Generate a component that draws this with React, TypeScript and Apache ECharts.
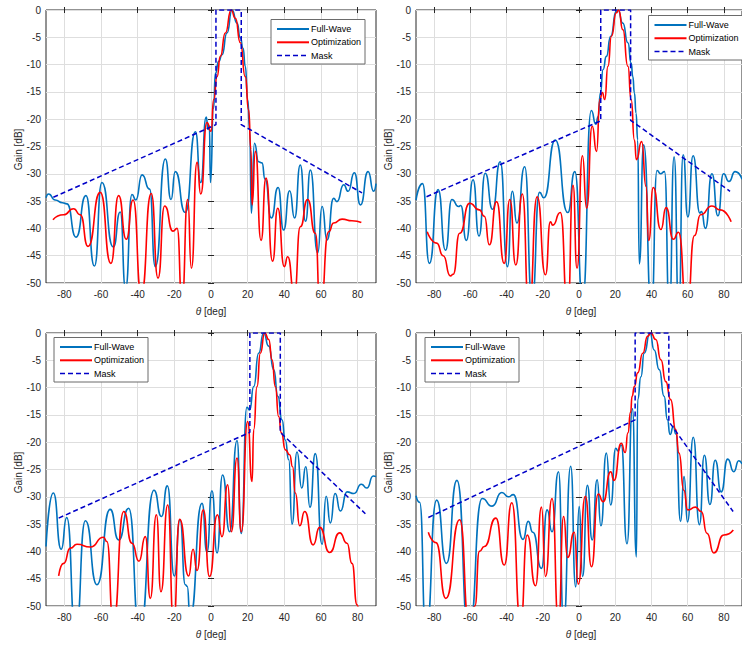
import React, { useEffect, useRef } from "react";
import * as echarts from "echarts";

type Pt = [number, number];

// Angle tick positions (deg); gain ticks use a 5 dB interval
const thetaTicks = [-80, -60, -40, -20, 0, 20, 40, 60, 80];
const legendNames = ["Full-Wave", "Optimization", "Mask"];

// ---- Beam steered to ~10 deg ----
const fullWave1: Pt[] = [[-90,-34.4],[-88.6,-33.7],[-85,-34.8],[-81,-35.3],[-78.6,-35.5],[-73.6,-41.6],[-68.2,-34],[-63.6,-46.9],[-59.5,-31.6],[-53.3,-43.4],[-49.5,-37],[-46.6,-51],[-43.1,-33.8],[-41,-34.8],[-37.6,-30.2],[-33.5,-32.8],[-30.4,-47],[-24.9,-27.3],[-21.8,-34.7],[-19.5,-29.6],[-14,-37.1],[-8.5,-22.3],[-5.6,-31.6],[-2.6,-19.6],[-1.6,-21.9],[-0.9,-21.2],[-0.3,-31.6],[1.4,-18],[2.4,-11.6],[4.2,-9.4],[6,-8.2],[8.7,-4.2],[11.5,0],[14.2,-2.4],[16,-5.1],[17.5,-7],[18.7,-10.3],[20,-16.4],[21.1,-22],[22,-37.2],[23.7,-24.4],[26,-27.8],[27.8,-28],[29.5,-31],[32.9,-38.1],[36.6,-32.5],[39.6,-40.3],[42.9,-33.1],[45.6,-38.1],[48.7,-28.4],[51.6,-38.7],[54.2,-29.3],[58.2,-44.5],[60.6,-36],[63.3,-42.1],[66.9,-34.5],[68.7,-35.1],[72.4,-32],[74.8,-33.2],[78.2,-29.8],[81.5,-35.7],[85.7,-29.6],[88.7,-33.2],[90,-31.8]];
const optimization1: Pt[] = [[-86.2,-38.4],[-80.4,-37.5],[-75,-36.4],[-71.3,-37.5],[-67.1,-43.3],[-60.4,-33.4],[-54.6,-46.4],[-50.4,-34],[-46.2,-42],[-42.5,-34.8],[-38,-52],[-32.6,-33.6],[-28.9,-49.1],[-25.3,-35.9],[-20.7,-40.5],[-18.5,-40],[-15.8,-53],[-12.7,-34.7],[-10.7,-47.3],[-7.6,-27.9],[-5.6,-33.7],[-2.2,-20.6],[0,-22.2],[1.5,-16.4],[3.3,-12.2],[5.1,-8.5],[7.8,-4.2],[11,0],[13.3,-1.5],[16,-6],[18.7,-12.2],[20.5,-18.3],[21.8,-25.6],[22.4,-35.7],[24.2,-25.9],[27.3,-42.2],[30,-30.8],[33.6,-46],[36.4,-36.3],[40,-47],[41.8,-45.2],[45.5,-52],[48.7,-39.7],[52.7,-34.7],[56.9,-40.9],[59.6,-55],[64.2,-40.6],[66.9,-39],[71.5,-38.3],[76.9,-38.6],[82,-38.9]];
const mask1: Pt[] = [[-86,-34.3],[2.7,-21],[2.7,0],[16.5,0],[16.5,-21],[82.4,-33.5]];

// ---- Beam steered to ~20 deg ----
const fullWave2: Pt[] = [[-90,-34.8],[-86.4,-31.8],[-82.6,-46.4],[-77.8,-32.9],[-73.7,-44],[-70.2,-34.7],[-66.5,-36],[-65.3,-35.8],[-62.2,-42.2],[-58.5,-31.1],[-55.2,-41.4],[-51.8,-29.9],[-47.7,-36.5],[-43.5,-27.8],[-39.5,-47],[-36.8,-33.2],[-34.3,-39],[-30,-28.7],[-25.9,-53],[-21.8,-33.4],[-19.4,-34.4],[-13.1,-23.8],[-6.2,-37.1],[-2.3,-29.6],[2,-53],[6.8,-18.4],[9.3,-20.9],[10.6,-19.5],[11.8,-15.2],[13.3,-10.9],[15.1,-8.5],[17.5,-4.8],[20.6,-0.2],[21.5,0],[24.2,-2.4],[27,-6],[28.8,-9.7],[29.7,-12.2],[30.6,-15.2],[31.5,-18.9],[32.4,-23.8],[33.3,-46.5],[35.7,-24.7],[40,-55],[43.1,-29.4],[45,-30],[47.2,-29.6],[49.9,-55],[52.5,-26.9],[55.1,-55],[57.5,-26.5],[60.1,-37.9],[63,-26.7],[66.8,-37.2],[67.6,-36.9],[69.8,-40],[73.4,-30],[76.7,-37.7],[79.8,-30],[82.8,-31.4],[86.2,-29.6],[90,-31]];
const optimization2: Pt[] = [[-83.8,-40.6],[-78.6,-42.7],[-75,-45],[-71,-48.7],[-69.5,-48.4],[-65.9,-40.9],[-60.4,-35.4],[-55,-36.6],[-52.2,-37.8],[-49.5,-43],[-45.5,-35.1],[-41.3,-46.4],[-38.2,-34.7],[-34.9,-46.7],[-31.3,-33.7],[-27.6,-55],[-23.1,-34.2],[-18.5,-48.5],[-15.8,-38.8],[-14.5,-39.4],[-10.3,-37.1],[-6.2,-55],[-3.3,-32.1],[-1.1,-47.3],[1.9,-26.7],[4.2,-36.3],[7.3,-21.3],[9.7,-25.9],[11.5,-16.4],[12.9,-15.1],[14.2,-16.4],[16,-10.3],[17.9,-4.8],[20.6,-0.5],[21.9,0],[24.2,-3.6],[27,-10.3],[28.8,-16.4],[30.6,-23.8],[31.7,-27.4],[34.6,-24.1],[37,-32.3],[38.5,-42.2],[41,-32.5],[45.2,-40.2],[48.1,-36.2],[52.1,-42],[54.9,-40.7],[59.6,-55],[63.8,-41.3],[67.1,-37.5],[73.4,-35.9],[78,-36.6],[84,-38.8]];
const mask2: Pt[] = [[-84.2,-34.2],[12,-20.3],[12,0],[28.5,0],[28.5,-20.2],[83.4,-33.2]];

// ---- Beam steered to ~30 deg ----
const fullWave3: Pt[] = [[-90,-39.1],[-86,-29.3],[-81.7,-39.6],[-78.7,-33.8],[-73.8,-55],[-68.5,-34.4],[-62.2,-46.1],[-55,-32.3],[-50.4,-37.9],[-44.9,-32.1],[-38.9,-55],[-31.1,-28.8],[-27,-33.6],[-23.8,-28],[-20,-44.5],[-16.9,-34.2],[-14,-46.1],[-13,-46.4],[-11.4,-52],[-4.9,-31.2],[-2.2,-40.1],[0.5,-28.9],[3.3,-40.3],[6.3,-26],[10.2,-36.4],[14.2,-19.7],[16.5,-36.7],[19.6,-13.6],[21.1,-14.1],[23.3,-9.8],[26,-3.7],[28.7,0],[31.5,-2.4],[34.2,-6.7],[36.5,-11.6],[38.7,-15.9],[40.5,-19.6],[42.4,-23.2],[44.2,-35],[46.9,-21.8],[49.5,-28.4],[51.7,-24.5],[54,-31.9],[56.9,-22.1],[60.6,-38.7],[62.8,-29.9],[65.1,-34.8],[67.7,-29.4],[70.6,-32.6],[74.2,-29.1],[78,-29.4],[82,-27.7],[85,-28.4],[88.5,-26.2],[90,-26.3]];
const optimization3: Pt[] = [[-83.1,-44.5],[-80.4,-42.2],[-76.7,-39.4],[-73.1,-38.7],[-65.8,-39.2],[-58.6,-37.4],[-56.8,-38.2],[-53.3,-53],[-47.6,-32.7],[-43.1,-38.5],[-39.3,-41.8],[-35.8,-37.3],[-33.1,-48.6],[-29.8,-33.3],[-27.3,-47.4],[-23.6,-31.5],[-20.4,-53],[-17.1,-34.1],[-12.2,-44.5],[-9.8,-39.6],[-7.6,-43.5],[-4.2,-32.4],[-0.8,-44.6],[3.5,-33.3],[6,-37.3],[9.1,-27.8],[11.1,-36.4],[14.2,-22.9],[16.5,-36.4],[20,-16.2],[22.4,-27.2],[23.3,-17.7],[25.1,-9.8],[26.9,-3.7],[29.3,0],[31.5,-1.2],[33.3,-4.9],[35.1,-9.8],[36.9,-15.3],[38.4,-18.3],[40.6,-21.4],[42.9,-22.3],[44.5,-24.5],[46,-29.3],[48.4,-35.3],[51.1,-32.7],[55.7,-38.8],[59.3,-35.6],[64.7,-40.2],[70.2,-36.6],[74.2,-38.5],[76.9,-42.2],[79.7,-49.8],[81,-53]];
const mask3: Pt[] = [[-83.1,-33.9],[21.2,-18.2],[21.2,0],[37.8,0],[37.8,-18.2],[84.2,-33.1]];

// ---- Beam steered to ~40 deg ----
const fullWave4: Pt[] = [[-90,-29.8],[-88,-31],[-84.5,-55],[-78.6,-30.6],[-73.2,-42.2],[-67.4,-27],[-60.8,-55],[-53.5,-30.3],[-48,-31.7],[-42.6,-29.2],[-39,-30],[-36.2,-29.6],[-30.9,-37.8],[-28,-34.5],[-25.5,-36.5],[-20.7,-43.1],[-17.6,-32.4],[-14.9,-36.4],[-11.3,-25.4],[-8.5,-53],[-4.6,-24.4],[-1.8,-46.5],[0.1,-31.8],[2,-44.6],[4.6,-27.9],[7.3,-37.9],[10,-26.9],[12.1,-35.3],[15.1,-22],[17.5,-31.5],[20.3,-21.1],[21.5,-21.6],[23.3,-20.5],[26.5,-38.6],[29.5,-13.9],[31.7,-41],[32.4,-12.2],[34.2,-8],[36,-3.7],[39.2,0],[41.5,-3.1],[44.3,-6.7],[47,-11.6],[48.8,-15.9],[50.3,-18.6],[52.1,-17.1],[53.5,-18.5],[56.1,-34.5],[58,-26.3],[59.9,-34.6],[63.1,-19.1],[66.5,-35.1],[69.2,-22.4],[72.3,-31.4],[75.2,-23.3],[78.5,-29.1],[82.1,-23.1],[85.5,-25.4],[88.2,-23.4],[90,-24]];
const optimization4: Pt[] = [[-83.2,-36.5],[-79,-38.4],[-73.5,-48.6],[-65.9,-34.2],[-60.5,-54],[-57.5,-50],[-55,-40],[-52.3,-39.1],[-45.9,-33.9],[-41.3,-42.5],[-37.1,-31.1],[-32.2,-53],[-28.6,-37],[-24,-46.3],[-20.7,-31.9],[-18.5,-44.6],[-14.9,-30.3],[-11.3,-53],[-8.5,-33.6],[-6.3,-41.1],[-2.6,-36.5],[-0.4,-46],[3.5,-29.9],[6.9,-42.8],[10.6,-29.5],[13.3,-30.9],[17.5,-25.4],[19.3,-27],[23.3,-20.2],[25.5,-21.9],[27,-18.3],[28.5,-14.5],[29.3,-11.6],[30.6,-9.8],[32.4,-7.3],[35.2,-3.7],[37.9,-0.6],[39.7,0],[42.4,-1.2],[45.2,-4.9],[47.9,-8.9],[50.6,-12.2],[53.4,-17.7],[55.2,-22],[57.9,-28.8],[60,-32.4],[64.3,-31.9],[67.5,-32.7],[70.7,-36.7],[74.4,-40.3],[80,-37],[85.2,-36.1]];
const mask4: Pt[] = [[-83.2,-33.8],[31,-15.9],[31,0],[49.6,0],[49.6,-16.2],[85.1,-32.7]];

const FONT = "'Liberation Sans', Arial, Helvetica, sans-serif";
const TEXT = "#262626";
const BLUE = "#0072BD";
const RED = "#FF0000";
const MASK = "#0000C8";
const MASK_DASH = [5, 3];

const PLOT_W = 330;
const PLOT_H = 273;

const panels = [
  { fw: fullWave1, opt: optimization1, mask: mask1, left: 46, top: 10, boxLeft: 271, boxTop: 19.5 },
  { fw: fullWave2, opt: optimization2, mask: mask2, left: 416, top: 10, boxLeft: 648.5, boxTop: 15.5 },
  { fw: fullWave3, opt: optimization3, mask: mask3, left: 46, top: 333, boxLeft: 54, boxTop: 337.5 },
  { fw: fullWave4, opt: optimization4, mask: mask4, left: 416, top: 333, boxLeft: 425, boxTop: 337.5 },
];

// Legend box for one panel: frame, sample line and label per entry (flat elements with ids)
function legendElements(i: number, boxLeft: number, boxTop: number) {
  const colors = [BLUE, RED, MASK];
  const els: any[] = [
    {
      type: "rect",
      id: `leg-box-${i}`,
      z: 100,
      shape: { x: boxLeft, y: boxTop, width: 94, height: 44.5 },
      style: { fill: "#ffffff", stroke: "#6b6b6b", lineWidth: 1 },
    },
  ];
  legendNames.forEach((name, k) => {
    const y = boxTop + 9.5 + k * 13.3;
    els.push({
      type: "line",
      id: `leg-line-${i}-${k}`,
      z: 101,
      shape: { x1: boxLeft + 6, y1: y, x2: boxLeft + 38, y2: y },
      style: {
        stroke: colors[k],
        lineWidth: k === 2 ? 1.5 : 2,
        lineDash: k === 2 ? MASK_DASH.slice() : null,
        fill: null,
      },
    });
    els.push({
      type: "text",
      id: `leg-text-${i}-${k}`,
      z: 101,
      x: boxLeft + 40,
      y,
      style: { text: name, fill: "#000", fontSize: 9, fontFamily: FONT, align: "left", verticalAlign: "middle" },
    });
  });
  return els;
}

function buildOption() {
  const grid: any[] = [];
  const xAxis: any[] = [];
  const yAxis: any[] = [];
  const series: any[] = [];
  const graphic: any[] = [];

  panels.forEach((p, i) => {
    grid.push({
      left: p.left,
      top: p.top,
      width: PLOT_W,
      height: PLOT_H,
      show: true,
      backgroundColor: "#ffffff",
      borderColor: TEXT,
      borderWidth: 1,
    });
    const tick = { show: true, inside: true, length: 3, lineStyle: { color: TEXT, width: 1 } };
    xAxis.push({
      type: "value",
      gridIndex: i,
      min: -90,
      max: 90,
      position: "bottom",
      axisLine: { show: false },
      axisTick: { ...tick, customValues: thetaTicks },
      axisLabel: { customValues: thetaTicks, color: TEXT, fontSize: 10, fontFamily: FONT, margin: 6 },
      splitLine: { show: true, lineStyle: { color: "#dedede", width: 1 } },
    });
    xAxis.push({
      type: "value",
      gridIndex: i,
      min: -90,
      max: 90,
      position: "top",
      axisLine: { show: false },
      axisTick: { ...tick, customValues: thetaTicks },
      axisLabel: { show: false },
      splitLine: { show: false },
    });
    yAxis.push({
      type: "value",
      gridIndex: i,
      min: -50,
      max: 0,
      interval: 5,
      position: "left",
      axisLine: { show: false },
      axisTick: tick,
      axisLabel: { color: TEXT, fontSize: 10, fontFamily: FONT, margin: 5 },
      splitLine: { show: true, lineStyle: { color: "#dedede", width: 1 } },
    });
    yAxis.push({
      type: "value",
      gridIndex: i,
      min: -50,
      max: 0,
      interval: 5,
      position: "right",
      axisLine: { show: false },
      axisTick: tick,
      axisLabel: { show: false },
      splitLine: { show: false },
    });

    const common = {
      type: "line",
      xAxisIndex: 2 * i,
      yAxisIndex: 2 * i,
      symbol: "none",
      showSymbol: false,
      clip: true,
    };
    series.push({ ...common, name: "Full-Wave", data: p.fw, smooth: 0.6, smoothMonotone: "x", lineStyle: { color: BLUE, width: 1.6 }, itemStyle: { color: BLUE } });
    series.push({ ...common, name: "Optimization", data: p.opt, smooth: 0.6, smoothMonotone: "x", lineStyle: { color: RED, width: 1.6 }, itemStyle: { color: RED } });
    series.push({ ...common, name: "Mask", data: p.mask, lineStyle: { color: MASK, width: 1.5, type: MASK_DASH }, itemStyle: { color: MASK } });

    graphic.push(...legendElements(i, p.boxLeft, p.boxTop));

    graphic.push({
      type: "text",
      id: `ylabel-${i}`,
      x: p.left - 28,
      y: p.top + PLOT_H / 2 + 3,
      rotation: Math.PI / 2,
      style: {
        text: "Gain [dB]",
        fill: TEXT,
        fontSize: 10,
        fontFamily: FONT,
        align: "center",
        verticalAlign: "middle",
      },
    });
    graphic.push({
      type: "text",
      id: `xlabel-${i}`,
      x: p.left + PLOT_W / 2,
      y: p.top + PLOT_H + 28,
      style: {
        text: "{i|θ} [deg]",
        fill: TEXT,
        fontSize: 10,
        fontFamily: FONT,
        align: "center",
        verticalAlign: "middle",
        rich: { i: { fontStyle: "italic", fontSize: 10, fontFamily: FONT, fill: TEXT } },
      },
    });
  });

  return {
    animation: false,
    backgroundColor: "#ffffff",
    grid,
    xAxis,
    yAxis,
    series,
    graphic,
  };
}

export default function App() {
  const ref = useRef<HTMLDivElement>(null);
  useEffect(() => {
    if (!ref.current) return;
    const chart = echarts.init(ref.current, undefined, { renderer: "svg" });
    chart.setOption(buildOption() as any);
    return () => chart.dispose();
  }, []);
  return (
    <div
      ref={ref}
      style={{ position: "fixed", left: 0, top: 0, width: 742, height: 645, background: "#fff" }}
    />
  );
}
